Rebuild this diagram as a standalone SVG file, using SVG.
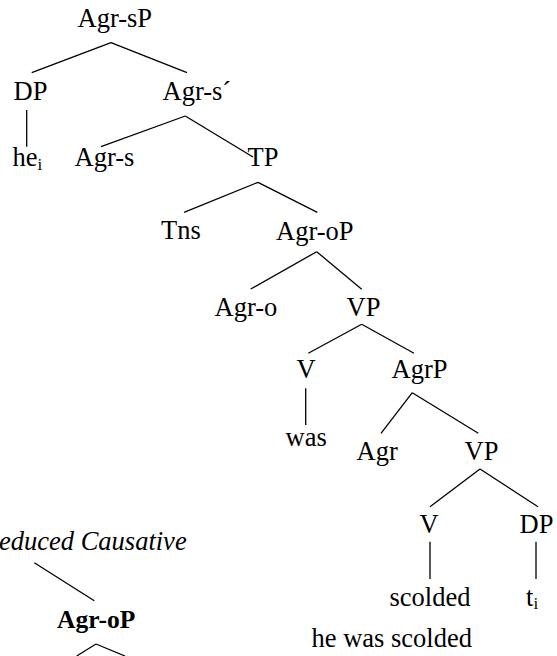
<svg xmlns="http://www.w3.org/2000/svg" width="557" height="656" viewBox="0 0 557 656">
<style>
.sub{font-size:17px}
.it{font-style:italic}
.b{font-weight:bold;font-size:25.5px}
#connectors line{stroke:#000;stroke-width:1.3}
</style>
<rect width="557" height="656" fill="#fff"/>
<g id="connectors">
<line x1="111" y1="42.7" x2="31.7" y2="72.7"/>
<line x1="111" y1="42.7" x2="187" y2="72.7"/>
<line x1="26.7" y1="110" x2="26.7" y2="146.7"/>
<line x1="185.3" y1="116" x2="101" y2="146.7"/>
<line x1="185.3" y1="116" x2="253" y2="157"/>
<line x1="258" y1="182.3" x2="184" y2="212.3"/>
<line x1="258" y1="182.3" x2="317.3" y2="212.3"/>
<line x1="316.7" y1="251.7" x2="250.7" y2="289"/>
<line x1="316.7" y1="251.7" x2="361.7" y2="289.3"/>
<line x1="361.7" y1="324.3" x2="308.3" y2="353.3"/>
<line x1="361.7" y1="324.3" x2="414" y2="353.3"/>
<line x1="305.7" y1="388.3" x2="305.7" y2="425"/>
<line x1="412.3" y1="392.7" x2="381" y2="433.3"/>
<line x1="412.3" y1="392.7" x2="478.3" y2="433.3"/>
<line x1="480" y1="469" x2="430" y2="506.7"/>
<line x1="480" y1="469" x2="538" y2="506.7"/>
<line x1="430" y1="541.7" x2="430" y2="579"/>
<line x1="536" y1="541.7" x2="536" y2="579"/>
<line x1="34.3" y1="562.7" x2="94.3" y2="600.7"/>
<line x1="96" y1="644" x2="76.7" y2="656"/>
<line x1="96" y1="644" x2="125" y2="656"/>
</g>
<g font-family="Liberation Serif, Times New Roman, serif" font-size="26.5" fill="#000">
<g id="n-agrsP"><text x="77.5" y="27">Agr-sP</text></g>
<g id="n-DP1"><text x="13.5" y="100">DP</text></g>
<g id="n-agrsbar"><text x="162.5" y="100">Agr-s´</text></g>
<g id="n-he"><text x="12.5" y="166">he<tspan class="sub" dy="4">i</tspan></text></g>
<g id="n-agrs"><text x="74.5" y="166">Agr-s</text></g>
<g id="n-TP"><text x="247.5" y="166">TP</text></g>
<g id="n-tns"><text x="161" y="239">Tns</text></g>
<g id="n-agroP"><text x="276" y="240">Agr-oP</text></g>
<g id="n-agro"><text x="214.5" y="316">Agr-o</text></g>
<g id="n-VP1"><text x="346.5" y="316">VP</text></g>
<g id="n-V1"><text x="296.5" y="378">V</text></g>
<g id="n-agrP"><text x="391.5" y="378">AgrP</text></g>
<g id="n-was"><text x="285.5" y="446">was</text></g>
<g id="n-agr"><text x="356.5" y="460">Agr</text></g>
<g id="n-VP2"><text x="464.5" y="460">VP</text></g>
<g id="n-V2"><text x="419.5" y="533">V</text></g>
<g id="n-DP2"><text x="519.5" y="533">DP</text></g>
<g id="n-scolded"><text x="389.5" y="606">scolded</text></g>
<g id="n-t"><text x="526" y="606">t<tspan class="sub" dy="3">i</tspan></text></g>
<g id="n-caption"><text x="311.5" y="647">he was scolded</text></g>
<g id="n-causative"><text class="it" x="-1" y="550">educed Causative</text></g>
<g id="n-agroP2"><text class="b" x="57" y="628">Agr-oP</text></g>
</g>
</svg>
